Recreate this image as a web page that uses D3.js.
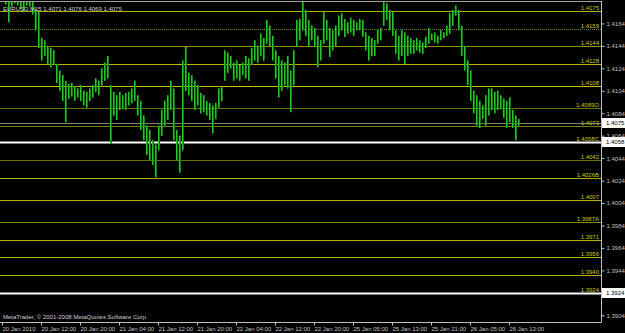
<!DOCTYPE html>
<html>
<head>
<meta charset="utf-8">
<script src="https://cdn.jsdelivr.net/npm/d3@7"></script>
<style>
body { margin: 0; background: #000; }
svg { display: block; }
text { font-family: "Liberation Sans", Arial, sans-serif; font-size: 6px; }
</style>
</head>
<body>
<svg id="chart1" width="625" height="333"></svg>
<script>
// EURUSD M15 bars (highs / lows)
var highs = [
 1.4200,1.4200,1.4195,1.4198,1.4200,1.4197,1.4196,1.4192,1.4195,1.4194,
 1.4186,1.4177,1.4174,1.4151,1.4149,1.4144,1.4142,1.4140,1.4128,1.4122,
 1.4118,1.4113,1.4110,1.4111,1.4108,1.4106,1.4109,1.4104,1.4103,1.4106,
 1.4109,1.4115,1.4113,1.4124,1.4129,1.4135,1.4109,1.4103,1.4100,1.4103,
 1.4100,1.4102,1.4103,1.4106,1.4113,1.4100,1.4095,1.4082,1.4073,1.4069,
 1.4060,1.4056,1.4073,1.4087,1.4095,1.4100,1.4113,1.4106,1.4069,1.4064,
 1.4131,1.4143,1.4120,1.4118,1.4113,1.4109,1.4102,1.4100,1.4095,1.4093,
 1.4091,1.4093,1.4106,1.4107,1.4140,1.4138,1.4135,1.4129,1.4131,1.4127,
 1.4129,1.4135,1.4133,1.4142,1.4149,1.4144,1.4155,1.4151,1.4167,1.4162,
 1.4153,1.4140,1.4135,1.4131,1.4129,1.4135,1.4122,1.4140,1.4167,1.4168,
 1.4183,1.4176,1.4167,1.4162,1.4160,1.4153,1.4149,1.4174,1.4167,1.4160,
 1.4158,1.4162,1.4171,1.4173,1.4168,1.4165,1.4169,1.4167,1.4165,1.4168,
 1.4167,1.4156,1.4153,1.4151,1.4149,1.4158,1.4160,1.4183,1.4182,1.4176,
 1.4174,1.4158,1.4153,1.4158,1.4156,1.4153,1.4151,1.4149,1.4151,1.4149,
 1.4147,1.4152,1.4160,1.4155,1.4156,1.4153,1.4158,1.4156,1.4162,1.4173,
 1.4176,1.4180,1.4176,1.4162,1.4144,1.4131,1.4122,1.4104,1.4100,1.4095,
 1.4091,1.4100,1.4106,1.4106,1.4103,1.4104,1.4100,1.4097,1.4095,1.4098,
 1.4087,1.4082,1.4079
];
var lows = [
 1.4183,1.4181,1.4165,1.4179,1.4182,1.4180,1.4177,1.4174,1.4180,1.4179,
 1.4172,1.4158,1.4142,1.4131,1.4135,1.4128,1.4125,1.4127,1.4111,1.4104,
 1.4095,1.4076,1.4097,1.4099,1.4095,1.4098,1.4095,1.4091,1.4089,1.4095,
 1.4098,1.4103,1.4100,1.4109,1.4113,1.4115,1.4057,1.4082,1.4078,1.4087,
 1.4088,1.4087,1.4091,1.4093,1.4095,1.4082,1.4069,1.4060,1.4047,1.4042,
 1.4038,1.4027,1.4051,1.4064,1.4073,1.4078,1.4087,1.4060,1.4042,1.4031,
 1.4051,1.4104,1.4100,1.4095,1.4087,1.4091,1.4084,1.4085,1.4082,1.4078,
 1.4066,1.4079,1.4089,1.4095,1.4113,1.4120,1.4124,1.4113,1.4115,1.4113,
 1.4118,1.4115,1.4113,1.4127,1.4131,1.4129,1.4135,1.4131,1.4146,1.4144,
 1.4131,1.4115,1.4098,1.4104,1.4109,1.4106,1.4085,1.4109,1.4143,1.4149,
 1.4158,1.4153,1.4144,1.4149,1.4143,1.4125,1.4131,1.4146,1.4149,1.4134,
 1.4140,1.4144,1.4153,1.4158,1.4152,1.4155,1.4156,1.4153,1.4158,1.4158,
 1.4152,1.4140,1.4131,1.4135,1.4135,1.4146,1.4149,1.4162,1.4167,1.4158,
 1.4153,1.4137,1.4131,1.4135,1.4128,1.4135,1.4137,1.4137,1.4140,1.4138,
 1.4137,1.4142,1.4146,1.4149,1.4147,1.4146,1.4149,1.4151,1.4153,1.4155,
 1.4162,1.4171,1.4158,1.4135,1.4122,1.4109,1.4095,1.4084,1.4073,1.4071,
 1.4079,1.4073,1.4082,1.4087,1.4084,1.4087,1.4088,1.4080,1.4071,1.4076,
 1.4071,1.4060,1.4073
];

// horizontal levels drawn on the chart
var levelPrices = [1.4175, 1.4159, 1.4144, 1.4128, 1.4108, 1.4089, 1.4073, 1.4058,
                   1.4042, 1.4026, 1.4007, 1.3987, 1.3971, 1.3956, 1.3940, 1.3924];
var levelLabels = ["1.4175", "1.4159", "1.4144", "1.4128", "1.4108", "1.4089O", "1.4073", "1.4058C",
                   "1.4042", "1.4026B", "1.4007", "1.3987A", "1.3971", "1.3956", "1.3940", "1.3924"];
var levelColors = ["#b0b000", "#7a7a00", "#909000", "#b8b800", "#c0c000", "#6e6e00", "#7a7a00", "#ffffff",
                   "#6e6e00", "#b0b000", "#b0b000", "#8a8a00", "#b0b000", "#b0b000", "#b0b000", "#ffffff"];

var priceTicks = [1.4164, 1.4144, 1.4124, 1.4104, 1.4084, 1.4064, 1.4044, 1.4024,
                  1.4004, 1.3984, 1.3964, 1.3944, 1.3904];
var timeBars = [0, 13, 26, 39, 52, 65, 78, 91, 104, 117, 130, 143, 156, 169];
var timeLabels = ["20 Jan 2010", "20 Jan 12:00", "20 Jan 20:00", "21 Jan 04:00", "21 Jan 12:00",
                  "21 Jan 20:00", "22 Jan 04:00", "22 Jan 12:00", "22 Jan 20:00", "25 Jan 05:00",
                  "25 Jan 13:00", "25 Jan 21:00", "26 Jan 05:00", "26 Jan 13:00"];
var bid = 1.4075;
var title = "EURUSD,M15  1.4071 1.4076 1.4069 1.4075";

var W = 601, H = 322;
var svg = d3.select("svg#chart1");

var x = d3.scaleLinear().domain([0, highs.length - 1]).range([2, 2 + 3 * (highs.length - 1)]);
var y = d3.scaleLinear().domain([1.3898, 1.4184]).range([H, 1]);

svg.append("rect").attr("width", 625).attr("height", 333).attr("fill", "#000");

svg.append("clipPath").attr("id", "plot")
  .append("rect").attr("x", 0).attr("y", 1).attr("width", W).attr("height", H - 1);

var g = svg.append("g").attr("clip-path", "url(#plot)");

// level lines
g.selectAll("line.level").data(levelPrices).enter()
  .append("line")
  .attr("class", "level")
  .attr("x1", 0).attr("x2", W)
  .attr("y1", d => Math.round(y(d)) + 0.5)
  .attr("y2", d => Math.round(y(d)) + 0.5)
  .attr("stroke", (d, i) => levelColors[i])
  .attr("stroke-width", (d, i) => levelColors[i] == "#ffffff" ? 2 : 1)
  .attr("stroke-dasharray", (d, i) => i == 1 ? "1,1" : null);

// bid line
g.append("line")
  .attr("x1", 0).attr("x2", W)
  .attr("y1", Math.round(y(bid)) + 0.5).attr("y2", Math.round(y(bid)) + 0.5)
  .attr("stroke", "#808080");

// bars: 2px dark body with a bright 1px stroke
g.selectAll("rect.bar").data(highs).enter()
  .append("rect")
  .attr("class", "bar")
  .attr("x", (d, i) => x(i))
  .attr("width", 2)
  .attr("y", d => y(d))
  .attr("height", (d, i) => Math.max(1, y(lows[i]) - y(d)))
  .attr("fill", "#008400");

g.selectAll("line.bar").data(highs).enter()
  .append("line")
  .attr("class", "bar")
  .attr("x1", (d, i) => x(i) + 0.5).attr("x2", (d, i) => x(i) + 0.5)
  .attr("y1", d => y(d))
  .attr("y2", (d, i) => y(lows[i]))
  .attr("stroke", "#1ec81e");

// level labels
g.selectAll("text.level").data(levelPrices).enter()
  .append("text")
  .attr("class", "level")
  .attr("x", W - 2)
  .attr("y", d => Math.round(y(d)) - 1)
  .attr("text-anchor", "end")
  .attr("fill", "#c8c800")
  .text((d, i) => levelLabels[i]);

// frame
svg.append("line").attr("x1", 0).attr("x2", W).attr("y1", 1.5).attr("y2", 1.5).attr("stroke", "#a0a0a0");

// right price axis
var yAxis = d3.axisRight(y).tickValues(priceTicks).tickFormat(d3.format(".4f")).tickSize(3).tickPadding(2);
var ya = svg.append("g").attr("transform", "translate(" + (W + 0.5) + ",0)").call(yAxis);
ya.select(".domain").attr("stroke", "#c0c0c0").attr("d", "M0,1V" + (H + 0.5));
ya.selectAll(".tick line").attr("stroke", "#c0c0c0");
ya.selectAll(".tick text").attr("fill", "#c0c0c0").style("font-size", "6px");

// bottom time axis
var xAxis = d3.axisBottom(x).tickValues(timeBars).tickFormat((d, i) => timeLabels[i]).tickSize(3).tickPadding(1);
var xa = svg.append("g").attr("transform", "translate(0," + (H + 0.5) + ")").call(xAxis);
xa.select(".domain").attr("stroke", "#c0c0c0").attr("d", "M0,0H" + (W + 0.5));
xa.selectAll(".tick line").attr("stroke", "#c0c0c0");
xa.selectAll(".tick text").attr("fill", "#c0c0c0").attr("text-anchor", "start").attr("dx", 0).style("font-size", "6px");

// price boxes on the axis
var boxes = [bid, levelPrices[7], levelPrices[15]];
svg.selectAll("g.box").data(boxes).enter()
  .append("g").attr("class", "box")
  .each(function(d) {
    var gg = d3.select(this);
    var yy = Math.round(y(d));
    gg.append("rect").attr("x", W + 1).attr("y", yy - 5).attr("width", 24).attr("height", 10).attr("fill", "#fff");
    gg.append("text").attr("x", W + 5).attr("y", yy + 2).attr("fill", "#000").text(d.toFixed(4));
  });

// title and copyright
svg.append("text").attr("x", 3).attr("y", 11).attr("fill", "#d0d0d0").text(title);
svg.append("text").attr("x", 3).attr("y", 319).attr("fill", "#d0d0d0")
  .text("MetaTrader, \u00a9 2001-2008 MetaQuotes Software Corp.");
</script>
</body>
</html>
